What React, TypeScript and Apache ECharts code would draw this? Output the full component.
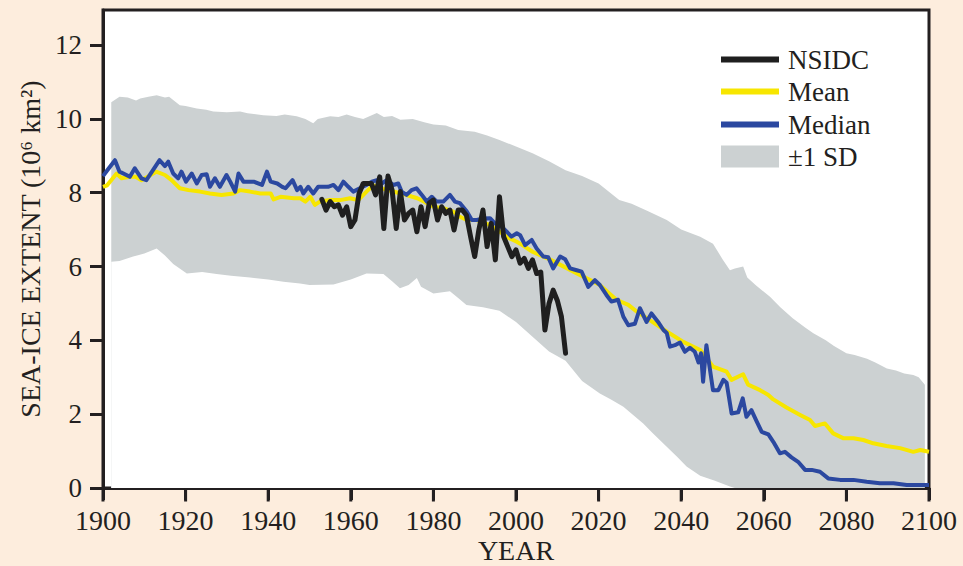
import React, { useEffect, useRef } from "react";
import * as echarts from "echarts";

// ---- Data ----
const yearMin = 1900;
const yearMax = 2100;
const xTickValues = [1900, 1920, 1940, 1960, 1980, 2000, 2020, 2040, 2060, 2080, 2100];
const xAxisTitle = "YEAR";

// Upper edge of the ±1 SD band [year, 10^6 km^2]
const sdUpper: [number, number][] = [
  [1902, 10.45], [1904, 10.6], [1906, 10.58], [1908, 10.5], [1909, 10.55], [1911, 10.6], [1913, 10.64],
  [1915, 10.58], [1916, 10.6], [1918.6, 10.37], [1920, 10.35], [1922.7, 10.28], [1925, 10.25],
  [1926.7, 10.2], [1930, 10.18], [1933.2, 10.2], [1935, 10.15], [1938.8, 10.1], [1942, 10.08],
  [1944, 10.12], [1946.9, 10.07], [1949, 10.0], [1950.9, 9.88], [1952, 10.0], [1955, 10.07],
  [1957, 10.05], [1959, 10.12], [1961, 10.05], [1963, 10.0], [1966.3, 10.16], [1968, 10.05],
  [1970, 10.08], [1972, 9.98], [1975, 10.0], [1978, 9.9], [1980, 9.85], [1983, 9.82], [1986, 9.7],
  [1990, 9.65], [1993, 9.55], [1996, 9.43], [2000, 9.25], [2004, 9.07], [2008, 8.85], [2012, 8.61],
  [2016, 8.45], [2020, 8.25], [2025, 7.8], [2028, 7.7], [2032, 7.5], [2036.5, 7.26], [2040, 7.0],
  [2044.6, 6.81], [2047.7, 6.62], [2050, 6.2], [2051.8, 5.9], [2053, 5.95], [2055, 6.0], [2056, 5.7],
  [2058, 5.5], [2061.5, 5.18], [2064, 4.9], [2067, 4.6], [2070, 4.35], [2072, 4.19], [2075, 4.0],
  [2077, 3.85], [2080, 3.65], [2082, 3.6], [2085, 3.5], [2087, 3.4], [2089.8, 3.24], [2092, 3.18],
  [2094, 3.1], [2096.2, 3.06], [2097.5, 3.0], [2099, 2.8],
];

// Lower edge of the ±1 SD band
const sdLower: [number, number][] = [
  [1902, 6.13], [1904, 6.15], [1907.3, 6.27], [1910, 6.35], [1913, 6.49], [1915, 6.3], [1917, 6.07],
  [1920.3, 5.81], [1924, 5.85], [1927.5, 5.8], [1931, 5.75], [1935.6, 5.7], [1940, 5.65],
  [1943.7, 5.59], [1947.7, 5.54], [1950, 5.5], [1955.8, 5.51], [1960, 5.65], [1963.8, 5.81],
  [1967.9, 5.8], [1970, 5.6], [1971.9, 5.41], [1974, 5.5], [1976, 5.69], [1977, 5.45], [1980, 5.27],
  [1984, 5.33], [1986, 5.15], [1988, 4.96], [1992, 4.9], [1996, 4.8], [2000, 4.5], [2004, 4.1],
  [2008, 3.7], [2012, 3.45], [2016, 2.9], [2020.3, 2.56], [2023, 2.4], [2026, 2.2], [2030.8, 1.75],
  [2033, 1.5], [2036.5, 1.12], [2039, 0.85], [2041.3, 0.58], [2044.6, 0.33], [2048, 0.2],
  [2051.8, 0.04], [2053, 0], [2099, 0],
];

// Multi-model mean
const meanData: [number, number][] = [
  [1900, 8.16], [1901, 8.2], [1903.3, 8.52], [1904.5, 8.39], [1906.5, 8.43], [1907.9, 8.43],
  [1909.3, 8.34], [1912.9, 8.57], [1915, 8.48], [1916.6, 8.34], [1918.6, 8.12], [1920.7, 8.07],
  [1923.5, 8.03], [1925.9, 7.98], [1928.7, 7.94], [1931.6, 7.98], [1933.2, 8.07], [1935.6, 8.03],
  [1938.1, 7.98], [1940.6, 7.98], [1941.3, 7.82], [1943, 7.89], [1946.2, 7.85], [1947.8, 7.85],
  [1949, 7.76], [1950.2, 7.89], [1951.3, 7.67], [1952.5, 7.76], [1955, 7.8], [1957.4, 7.8],
  [1959.8, 7.85], [1961.8, 7.8], [1963.8, 8.03], [1965.4, 8.2], [1968, 8.1], [1972.1, 7.98],
  [1974.9, 7.89], [1976.1, 7.85], [1977.7, 7.76], [1980, 7.62], [1982.4, 7.58], [1984.8, 7.49],
  [1986.4, 7.35], [1988.1, 7.26], [1990.5, 7.26], [1993.7, 7.12], [1996.1, 6.94], [1998.5, 6.76],
  [2000.2, 6.67], [2001, 6.62], [2004, 6.4], [2008.4, 6.18], [2012.4, 5.95], [2016.4, 5.72],
  [2020.3, 5.5], [2024.3, 5.1], [2027.2, 4.96], [2029.2, 4.78], [2032.4, 4.55], [2036.5, 4.24],
  [2040.5, 3.96], [2044.6, 3.74], [2047.7, 3.29], [2051, 3.15], [2052.2, 2.93], [2055, 3.08],
  [2056.2, 2.8], [2059.1, 2.65], [2061.1, 2.52], [2062.3, 2.4], [2065.5, 2.18], [2068.8, 1.98],
  [2071.2, 1.84], [2072.4, 1.68], [2074.8, 1.75], [2076.8, 1.48], [2079.2, 1.35], [2081.7, 1.35],
  [2084.1, 1.3], [2086.5, 1.21], [2089.7, 1.14], [2093, 1.08], [2096.2, 0.98], [2097.9, 1.03],
  [2100, 0.98],
];

// Multi-model median
const medianData: [number, number][] = [
  [1900, 8.45], [1901, 8.6], [1902.9, 8.88], [1904, 8.57], [1905.3, 8.5], [1906.5, 8.43],
  [1907.7, 8.66], [1909.3, 8.39], [1910.5, 8.34], [1912.1, 8.61], [1913.7, 8.88], [1915, 8.72],
  [1915.8, 8.84], [1917, 8.52], [1918.2, 8.39], [1919, 8.57], [1920.1, 8.3], [1921.5, 8.52],
  [1922.7, 8.25], [1923.9, 8.48], [1925.1, 8.5], [1925.9, 8.16], [1927.1, 8.39], [1928.3, 8.16],
  [1929.9, 8.48], [1930.8, 8.3], [1932, 8.03], [1932.8, 8.52], [1934, 8.3], [1936.5, 8.3],
  [1938.5, 8.21], [1939.7, 8.57], [1940.6, 8.3], [1942.2, 8.25], [1943.4, 8.16], [1944.2, 8.12],
  [1945.9, 8.34], [1947, 8.07], [1947.8, 8.16], [1948.5, 7.98], [1949.7, 8.16], [1950.9, 7.98],
  [1952.1, 8.16], [1954.5, 8.16], [1955.8, 8.21], [1957, 8.07], [1958.2, 8.3], [1959.4, 8.16],
  [1960.6, 8.03], [1962.2, 8.12], [1963.8, 8.21], [1965.1, 8.3], [1966.3, 8.34], [1967.5, 8.25],
  [1968.7, 8.34], [1970.3, 8.21], [1971.5, 8.25], [1972.3, 8.03], [1973.5, 7.94], [1974.7, 8.07],
  [1975.9, 8.12], [1977.2, 7.94], [1978.4, 7.76], [1979.6, 7.89], [1980.8, 7.76], [1982.4, 7.76],
  [1984, 7.94], [1985.2, 7.76], [1986.4, 7.72], [1988.1, 7.49], [1989.3, 7.26], [1990.5, 7.26],
  [1992.1, 7.3], [1993.7, 7.31], [1994.9, 7.17], [1996.5, 7.08], [1997.7, 6.95], [1998.9, 6.81],
  [2000.2, 6.9], [2001, 6.85], [2002.2, 6.58], [2003.8, 6.72], [2005, 6.49], [2006.6, 6.27],
  [2007.8, 6.25], [2009, 5.95], [2010.7, 6.27], [2011.9, 6.2], [2013.1, 5.95], [2014.7, 5.9],
  [2015.9, 5.86], [2017.5, 5.45], [2019.1, 5.63], [2020.3, 5.5], [2021.9, 5.23], [2023.1, 5.05],
  [2024.7, 5.1], [2026, 4.64], [2027.2, 4.41], [2028.8, 4.45], [2030, 4.87], [2031.6, 4.5],
  [2032.8, 4.73], [2034.4, 4.5], [2035.7, 4.28], [2036.5, 4.2], [2037.3, 3.83], [2038.5, 3.87],
  [2039.7, 3.94], [2040.9, 3.69], [2042.1, 3.8], [2043.3, 3.69], [2044.2, 3.4], [2044.8, 3.65],
  [2045.3, 2.88], [2046.1, 3.87], [2047.7, 2.65], [2049, 2.65], [2050.2, 2.93], [2051, 2.85],
  [2052.2, 2.02], [2053.8, 2.05], [2054.9, 2.43], [2055.8, 1.93], [2057, 2.11], [2058.3, 1.8],
  [2059.5, 1.52], [2061.1, 1.45], [2062.3, 1.25], [2063.9, 0.94], [2065.1, 0.98], [2066.7, 0.83],
  [2068.3, 0.71], [2070, 0.49], [2071.6, 0.49], [2073.6, 0.44], [2075.6, 0.26], [2078.5, 0.22],
  [2081.7, 0.22], [2084.9, 0.17], [2088.1, 0.13], [2091.4, 0.13], [2094.6, 0.08], [2100, 0.08],
];

// NSIDC observations
const nsidcData: [number, number][] = [
  [1953, 7.82], [1954, 7.53], [1955, 7.76], [1956, 7.62], [1957, 7.67], [1958, 7.39], [1959, 7.62],
  [1960, 7.08], [1961, 7.26], [1962, 7.98], [1963, 8.25], [1964, 8.25], [1965, 8.25], [1966, 7.94],
  [1967, 8.43], [1968, 7.03], [1969, 8.45], [1970, 8.07], [1971, 7.03], [1972, 8.03], [1973, 7.26],
  [1974, 7.44], [1975, 7.53], [1976, 6.94], [1977, 7.62], [1978, 7.08], [1979, 7.72], [1980, 7.8],
  [1981, 7.26], [1982, 7.62], [1983, 7.44], [1984, 7.53], [1985, 6.99], [1986, 7.53], [1987, 7.53],
  [1988, 7.39], [1989, 6.81], [1990, 6.27], [1991, 6.99], [1992, 7.53], [1993, 6.54], [1994, 7.17],
  [1995, 6.18], [1996, 7.89], [1997, 6.81], [1998, 6.54], [1999, 6.27], [2000, 6.45], [2001, 6.09],
  [2002, 6.22], [2003, 5.95], [2004, 6.18], [2005, 5.81], [2006, 5.85], [2007, 4.28], [2008, 5.0],
  [2009, 5.36], [2010, 5.08], [2011, 4.64], [2012, 3.65],
];

// ---- Styling ----
const FONT = '"Liberation Serif", "DejaVu Serif", serif';
const TEXT = "#231f20";
const BG = "#fdeddd";
const GRAY = "#ccd1d2";
const YELLOW = "#f7e600";
const BLUE = "#2b48a0";
const BLACK = "#1f1f1f";

export default function App() {
  const ref = useRef<HTMLDivElement>(null);

  useEffect(() => {
    if (!ref.current) return;
    const chart = echarts.init(ref.current, null, { renderer: "svg" });

    const legendBase = {
      orient: "vertical",
      left: 721,
      padding: 0,
      icon: "rect",
      itemWidth: 58,
      selectedMode: false,
      textStyle: { fontFamily: FONT, fontSize: 27, color: TEXT, padding: [0, 0, 0, 4] },
      itemStyle: { borderWidth: 0 },
    };

    const lineBase = {
      type: "line",
      symbol: "none",
      silent: true,
      smooth: false,
      clip: false,
    };

    const yearTitle = {
      id: "year-title",
      type: "text",
      x: 516,
      y: 550,
      silent: true,
      style: {
        text: xAxisTitle,
        fontFamily: FONT,
        fontSize: 28,
        fill: TEXT,
        align: "center",
        verticalAlign: "middle",
      },
    };

    chart.setOption({
      animation: false,
      backgroundColor: BG,
      grid: {
        left: 103,
        right: 34,
        top: 10,
        bottom: 78,
        outerBoundsMode: "none",
        show: true,
        backgroundColor: "#ffffff",
        borderColor: TEXT,
        borderWidth: 3,
      },
      legend: [
        { ...legendBase, top: 46, itemHeight: 6, data: ["NSIDC"] },
        { ...legendBase, top: 78, itemHeight: 6, data: ["Mean"] },
        { ...legendBase, top: 111, itemHeight: 6, data: ["Median"] },
        { ...legendBase, top: 143, itemHeight: 22, data: ["±1 SD"] },
      ],
      graphic: [yearTitle],
      xAxis: {
        type: "value",
        min: yearMin,
        max: yearMax,
        interval: 20,
        axisLine: { show: true, onZero: false, lineStyle: { color: TEXT, width: 3 } },
        axisTick: { show: true, inside: false, length: 12, lineStyle: { color: TEXT, width: 3 } },
        axisLabel: {
          fontFamily: FONT,
          fontSize: 28,
          color: TEXT,
          margin: 18,
          formatter: (v: number) => String(v),
        },
        splitLine: { show: false },
      },
      yAxis: {
        type: "value",
        min: 0,
        max: 12.95,
        interval: 2,
        name: "SEA-ICE EXTENT (10⁶ km²)",
        nameLocation: "middle",
        nameGap: 52,
        nameTextStyle: { fontFamily: FONT, fontSize: 28, color: TEXT },
        axisLine: { show: true, onZero: false, lineStyle: { color: TEXT, width: 3 } },
        axisTick: {
          show: true,
          inside: false,
          length: 13,
          lineStyle: { color: TEXT, width: 3 },
        },
        axisLabel: {
          fontFamily: FONT,
          fontSize: 27,
          color: TEXT,
          margin: 21,
          showMaxLabel: false,
          formatter: (v: number) => (v > 12 ? "" : String(v)),
        },
        splitLine: { show: false },
      },
      series: [
        {
          ...lineBase,
          name: "±1 SD",
          data: sdUpper,
          color: GRAY,
          itemStyle: { color: GRAY },
          lineStyle: { width: 0, opacity: 0 },
          areaStyle: { color: GRAY, opacity: 1 },
        },
        {
          ...lineBase,
          name: "sd-lower",
          data: sdLower,
          color: "#ffffff",
          lineStyle: { width: 0, opacity: 0 },
          areaStyle: { color: "#ffffff", opacity: 1 },
        },
        {
          ...lineBase,
          name: "Mean",
          data: meanData,
          color: YELLOW,
          itemStyle: { color: YELLOW },
          lineStyle: { color: YELLOW, width: 4, join: "round", cap: "butt" },
        },
        {
          ...lineBase,
          name: "Median",
          data: medianData,
          color: BLUE,
          itemStyle: { color: BLUE },
          lineStyle: { color: BLUE, width: 4, join: "round", cap: "butt" },
        },
        {
          ...lineBase,
          name: "NSIDC",
          data: nsidcData,
          color: BLACK,
          itemStyle: { color: BLACK },
          lineStyle: { color: BLACK, width: 5, join: "round", cap: "round" },
        },
      ],
    });

    // Outward x-axis tick marks, positioned through the chart's own x scale.
    const tickMarks = xTickValues.map((v, i) => {
      const p = chart.convertToPixel({ gridIndex: 0 }, [v, 0]) as number[];
      return {
        id: "xtick-" + i,
        type: "line",
        silent: true,
        z: 20,
        shape: { x1: p[0], y1: p[1], x2: p[0], y2: p[1] + 13.5 },
        style: { stroke: TEXT, lineWidth: 3 },
      };
    });
    chart.setOption({ graphic: [yearTitle, ...tickMarks] });

    return () => chart.dispose();
  }, []);

  return (
    <div
      ref={ref}
      style={{ position: "fixed", left: 0, top: 0, width: 963, height: 566 }}
    />
  );
}
